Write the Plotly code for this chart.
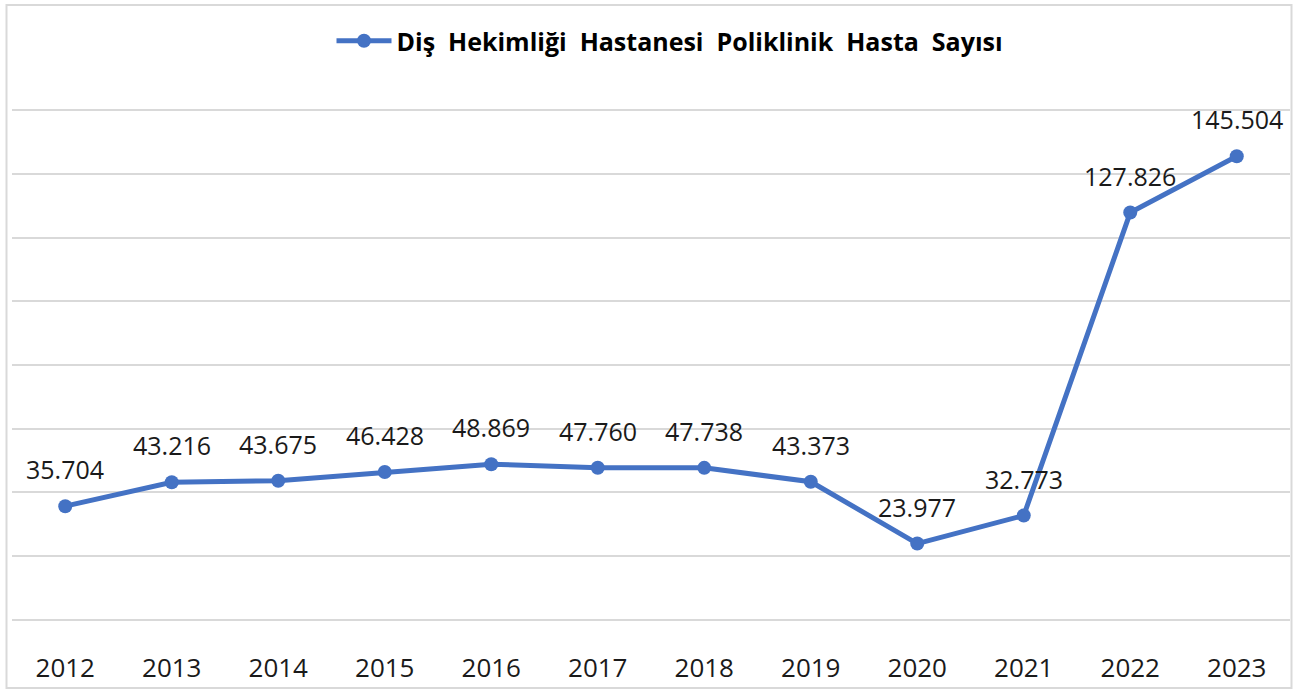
import plotly.graph_objects as go

years = ["2012", "2013", "2014", "2015", "2016", "2017", "2018", "2019", "2020", "2021", "2022", "2023"]
patients = [35704, 43216, 43675, 46428, 48869, 47760, 47738, 43373, 23977, 32773, 127826, 145504]
labels = ["35.704", "43.216", "43.675", "46.428", "48.869", "47.760", "47.738", "43.373", "23.977", "32.773", "127.826", "145.504"]
series_name = "Diş  Hekimliği  Hastanesi  Poliklinik  Hasta  Sayısı"

W, H = 1298, 690
ML, MR, MT, MB = 12, 8, 109, 69
PW, PH = W - ML - MR, H - MT - MB

fig = go.Figure()
fig.add_trace(go.Scatter(
    x=years, y=patients, mode="lines+markers", name=series_name,
    line=dict(color="#4472C4", width=5),
    marker=dict(color="#4472C4", size=14),
))

for i, (v, t) in enumerate(zip(patients, labels)):
    fig.add_annotation(x=i, y=v, text=t, showarrow=False, yshift=37,
                       font=dict(family="Open Sans", size=25, color="#1a1a1a"))

def px(xp):
    return (xp - ML) / PW

def py(yp):
    return (H - MB - yp) / PH

fig.add_shape(type="rect", xref="paper", yref="paper",
              x0=px(6.5), x1=px(1291.5), y0=py(688), y1=py(5),
              line=dict(color="#d9d9d9", width=2), fillcolor="rgba(0,0,0,0)", layer="below")

fig.update_layout(
    width=W, height=H,
    margin=dict(l=ML, r=MR, t=MT, b=MB, pad=0, autoexpand=False),
    paper_bgcolor="white", plot_bgcolor="white",
    showlegend=True,
    legend=dict(orientation="h", x=px(670), xanchor="center", y=py(41), yanchor="middle",
                font=dict(family="Open Sans", size=25, color="#000000", weight="bold"),
                itemwidth=55, bgcolor="rgba(0,0,0,0)"),
    xaxis=dict(type="category", range=[-0.5, len(years) - 0.5], showgrid=False, automargin=False,
               zeroline=False, showline=False, ticks="",
               tickfont=dict(family="Open Sans", size=26, color="#1a1a1a"),
               ticklabelstandoff=29),
    yaxis=dict(range=[-320, 160320], tickvals=[0, 20000, 40000, 60000, 80000, 100000, 120000, 140000, 160000],
               showgrid=True, gridcolor="#d9d9d9", gridwidth=2, automargin=False,
               zeroline=False, showline=False, showticklabels=False, ticks=""),
)

fig.write_html("out.html")
